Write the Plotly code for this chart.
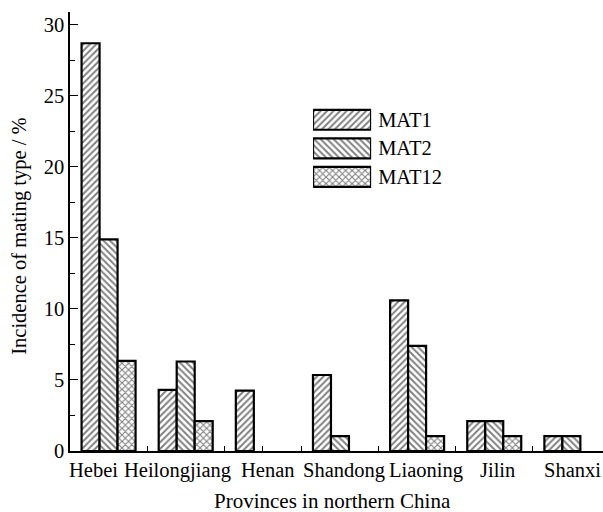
import plotly.graph_objects as go

provinces = ["Hebei", "Heilongjiang", "Henan", "Shandong", "Liaoning", "Jilin", "Shanxi"]
mat1 = [28.7, 4.3, 4.25, 5.35, 10.6, 2.1, 1.05]
mat2 = [14.9, 6.3, None, 1.05, 7.4, 2.1, 1.05]
mat12 = [6.35, 2.1, None, None, 1.05, 1.05, None]
series_names = ["MAT1", "MAT2", "MAT12"]
y_ticks = [0, 5, 10, 15, 20, 25, 30]

# styling
FONT = "Liberation Serif"
FS = 20.5
shapes_pat = ["/", "\\", "x"]
label_shift_px = [-15, -8, 5, 4, 9, 3, 1]


def pattern(shape):
    return dict(shape=shape, fgcolor="black", bgcolor="white",
                size=4.6, solidity=0.42, fillmode="overlay")


idx = list(range(len(provinces)))
fig = go.Figure()
for name, vals, pat in zip(series_names, [mat1, mat2, mat12], shapes_pat):
    fig.add_trace(go.Bar(
        x=idx, y=vals, name=name, showlegend=False,
        marker=dict(color="white", line=dict(color="black", width=2.2),
                    pattern=pattern(pat)),
    ))

# legend swatches drawn as bars on an auxiliary axis pair
for name, pat in zip(series_names, shapes_pat):
    fig.add_trace(go.Bar(
        x=[1], y=[name], orientation="h", xaxis="x2", yaxis="y2", showlegend=False,
        marker=dict(color="white", line=dict(color="black", width=2.2),
                    pattern=pattern(pat)),
    ))

half_ticks = [i * 0.5 for i in range(-1, 2 * len(provinces))]

fig.update_layout(
    width=603, height=512,
    margin=dict(l=70, r=0, t=12, b=61),
    plot_bgcolor="white", paper_bgcolor="white",
    barmode="group", bargap=0.30, bargroupgap=0,
    font=dict(family=FONT, size=FS, color="black"),
    xaxis=dict(range=[-0.5, 6.41], tickmode="array", tickvals=half_ticks,
               showticklabels=False, ticks="inside", ticklen=5, tickcolor="black",
               showline=True, linecolor="black", linewidth=1.5, showgrid=False,
               zeroline=False, layer="below traces"),
    yaxis=dict(range=[0, 30.9], tickmode="array", tickvals=y_ticks,
               ticks="inside", ticklen=8, tickcolor="black", tickwidth=1,
               minor=dict(dtick=2.5, tick0=0, ticks="inside", ticklen=5, tickcolor="black"),
               showline=True, linecolor="black", linewidth=1.5, showgrid=False,
               zeroline=False, tickfont=dict(size=FS), layer="below traces"),
    xaxis2=dict(domain=[0.456, 0.565], range=[0, 1], anchor="y2", visible=False, fixedrange=True),
    yaxis2=dict(domain=[0.592, 0.787], anchor="x2", side="right", autorange="reversed",
                showline=False, showgrid=False, zeroline=False, ticks="",
                ticklabelstandoff=6, tickfont=dict(size=FS)),
)

annotations = []
for i, (p, dx) in enumerate(zip(provinces, label_shift_px)):
    annotations.append(dict(x=i, y=0, xref="x", yref="paper", text=p, showarrow=False,
                            xanchor="center", yanchor="top", yshift=-6, xshift=dx,
                            font=dict(size=FS)))
annotations.append(dict(x=0.4925, y=-0.114, xref="paper", yref="paper",
                        text="Provinces in northern China", showarrow=False,
                        xanchor="center", yanchor="middle", font=dict(size=21)))
annotations.append(dict(x=-0.094, y=0.49, xref="paper", yref="paper",
                        text="Incidence of mating type / %", showarrow=False, textangle=-90,
                        xanchor="center", yanchor="middle", font=dict(size=FS)))
fig.update_layout(annotations=annotations)

fig.write_html("out.html", config={"displayModeBar": False},
               post_script="document.body.style.margin='0';document.body.style.overflow='hidden';")
